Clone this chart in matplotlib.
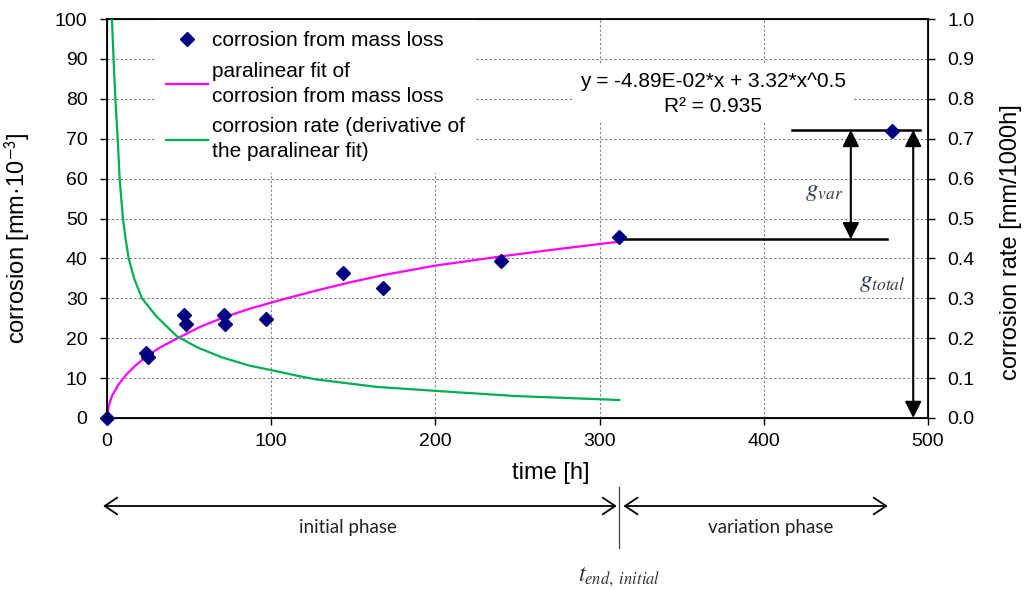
import matplotlib
matplotlib.use("Agg")
import matplotlib.pyplot as plt
from matplotlib.transforms import blended_transform_factory

plt.rcParams['font.family'] = ['Liberation Sans', 'DejaVu Sans']
plt.rcParams['mathtext.fontset'] = 'stix'

# measured corrosion (mass loss), time in h, corrosion in mm*10^-3
mass_t = [0, 24, 25, 47, 48, 71, 72, 97, 144, 168, 240, 312, 478]
mass_c = [0, 16.3, 15.3, 25.9, 23.6, 25.9, 23.5, 24.7, 36.4, 32.7, 39.4, 45.4, 72.0]

# paralinear fit curve
fit_t = [0, 1, 3, 7, 12, 18, 24, 32, 43, 57, 71, 87, 105, 128, 148, 168, 200, 240, 270, 312]
fit_c = [0, 3.0, 5.5, 8.4, 11.0, 13.4, 15.4, 17.6, 20.0, 22.9, 25.2, 27.4, 29.5,
         32.0, 34.0, 35.8, 38.2, 40.5, 42.1, 44.2]

# corrosion rate curve (right axis, mm/1000h)
rate_t = [3.0, 4.0, 5.1, 6.5, 7.7, 9.7, 11.3, 13.2, 16.5, 21.3, 30, 42.5, 55, 70, 87,
          100, 117, 127, 164, 200, 249, 300, 312]
rate_v = [1.0, 0.9, 0.8, 0.7, 0.6, 0.5, 0.45, 0.4, 0.35, 0.3, 0.255, 0.205, 0.177,
          0.152, 0.131, 0.12, 0.105, 0.097, 0.078, 0.068, 0.055, 0.047, 0.045]

t_end = 312
g_top = 72.2
g_end = 44.8

fig = plt.figure(figsize=(10.28, 5.9), dpi=100)
ax = fig.add_axes([107 / 1028, 1 - 418 / 590, 821 / 1028, 399 / 590])
ax2 = ax.twinx()

# left axis
ax.set_xlim(0, 500)
ax.set_ylim(0, 100)
ax.set_xticks(range(0, 501, 100))
ax.set_yticks(range(0, 101, 10))
ax.grid(True, color='#808080', linestyle=(0, (2, 2)), linewidth=0.8)
ax.set_axisbelow(True)
ax.tick_params(axis='both', direction='out', length=5, width=1, labelsize=14)
ax.tick_params(axis='x', pad=6)
ax.tick_params(axis='y', pad=9)
for s in ax.spines.values():
    s.set_linewidth(1.3)

line_fit, = ax.plot(fit_t, fit_c, color='#FF00FF', lw=1.6, zorder=3)
pts, = ax.plot(mass_t, mass_c, linestyle='none', marker='D', markersize=7,
               color='#000080', zorder=4, clip_on=False)

ax.set_ylabel('corrosion [mm·10$^{\\mathsf{-3}}$]', fontsize=17)
ax.yaxis.set_label_coords(-0.09, 0.45)
ax.set_xlabel('time [h]', fontsize=17)
ax.xaxis.set_label_coords(0.54, -0.11)

# right axis
ax2.set_ylim(0, 1.0)
ax2.set_yticks([i / 10 for i in range(11)])
ax2.set_yticklabels(['%.1f' % (i / 10) for i in range(11)])
ax2.tick_params(axis='y', direction='out', length=5, width=1, labelsize=14, pad=9)
line_rate, = ax2.plot(rate_t, rate_v, color='#00B050', lw=1.6, zorder=3)
ax2.set_ylabel('corrosion rate [mm/1000h]', fontsize=17)
ax2.yaxis.set_label_coords(1.088, 0.44)

leg = ax2.legend([pts, line_fit, line_rate],
                 ['corrosion from mass loss',
                  'paralinear fit of\ncorrosion from mass loss',
                  'corrosion rate (derivative of\nthe paralinear fit)'],
                 loc='upper left', bbox_to_anchor=(0.057, 1.0), fontsize=15,
                 frameon=True, fancybox=False, handlelength=2.0, handletextpad=0.2,
                 labelspacing=0.55, borderpad=0.55, borderaxespad=0.05)
for t in leg.get_texts():
    t.set_linespacing(1.4)
leg.get_frame().set_facecolor('white')
leg.get_frame().set_edgecolor('none')
leg.get_frame().set_alpha(1)

ax.text(369, 81.3, 'y = -4.89E-02*x + 3.32*x^0.5\nR² = 0.935', fontsize=15,
        ha='center', va='center', linespacing=1.4, zorder=2,
        bbox=dict(facecolor='white', edgecolor='none', pad=5))

# g_var / g_total markers
ax.plot([417, 495], [g_top, g_top], color='black', lw=1.8, zorder=3, clip_on=False)
ax.plot([t_end, 475], [g_end, g_end], color='black', lw=1.8, zorder=3)
ax.annotate('', xy=(453, g_end), xytext=(453, g_top),
            arrowprops=dict(arrowstyle='<|-|>,head_length=1.0,head_width=0.5',
                            mutation_scale=10, color='black', lw=1.5,
                            shrinkA=0, shrinkB=0))
ax.annotate('', xy=(491, 0), xytext=(491, g_top),
            arrowprops=dict(arrowstyle='<|-|>,head_length=1.0,head_width=0.5',
                            mutation_scale=10, color='black', lw=1.5,
                            shrinkA=0, shrinkB=0))
ax.text(437, 56.8, '$g_{var}$', fontsize=18, color='#2b3a55', ha='center', va='center')
ax.text(472, 34.2, '$g_{total}$', fontsize=18, color='#2b3a55', ha='center', va='center')

# phases below the axis
tr = blended_transform_factory(ax.transData, fig.transFigure)
arrow_y = 1 - 506 / 590
ax.annotate('', xy=(-2.4, arrow_y), xytext=(310.5, arrow_y),
            xycoords=('data', 'figure fraction'), textcoords=('data', 'figure fraction'),
            arrowprops=dict(arrowstyle='<->,head_length=0.45,head_width=0.3',
                            mutation_scale=20, color='black', lw=1.3,
                            shrinkA=0, shrinkB=0))
ax.annotate('', xy=(314.5, arrow_y), xytext=(475.5, arrow_y),
            xycoords=('data', 'figure fraction'), textcoords=('data', 'figure fraction'),
            arrowprops=dict(arrowstyle='<->,head_length=0.45,head_width=0.3',
                            mutation_scale=20, color='black', lw=1.3,
                            shrinkA=0, shrinkB=0))
ax.plot([t_end, t_end], [1 - 487 / 590, 1 - 548 / 590], transform=tr,
        color='#404040', lw=0.9, clip_on=False)
ax.text(147, 1 - 527 / 590, 'initial phase', transform=tr, fontsize=13.5,
        family='Lato', ha='center', va='center', color='#222222')
ax.text(404, 1 - 527 / 590, 'variation phase', transform=tr, fontsize=13.5,
        family='Lato', ha='center', va='center', color='#222222')
ax.text(t_end, 1 - 577 / 590, '$t_{end,\\ initial}$', transform=tr, fontsize=17,
        ha='center', va='center', color='#333333')

fig.savefig('out.png', dpi=100)
